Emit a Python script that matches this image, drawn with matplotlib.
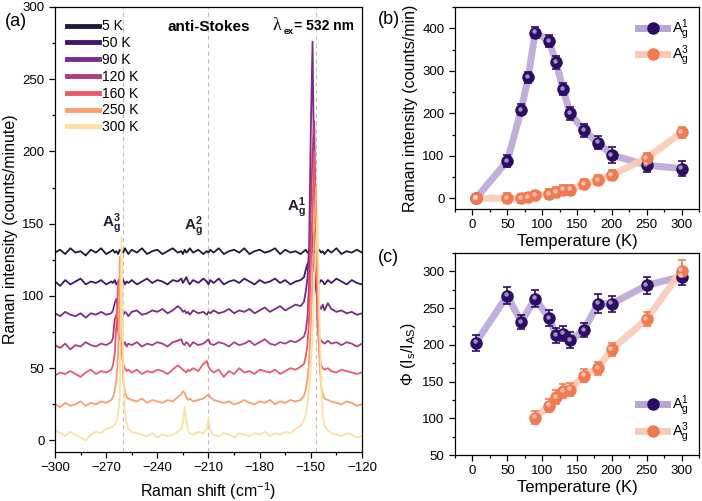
import matplotlib
matplotlib.use("Agg")
import matplotlib.pyplot as plt
from matplotlib.ticker import MultipleLocator
from matplotlib import transforms

plt.rcParams['font.family'] = ['Liberation Sans', 'DejaVu Sans']
plt.rcParams['mathtext.fontset'] = 'custom'
plt.rcParams['mathtext.rm'] = 'Liberation Sans'
plt.rcParams['mathtext.it'] = 'Liberation Sans:italic'
plt.rcParams['mathtext.bf'] = 'Liberation Sans:bold'

# ---------------- (a) spectra ----------------
shift = [-300, -297, -294, -291, -288, -285, -282, -279, -276, -273, -270, -267,
         -266, -265, -264, -263, -262, -261, -260, -259, -258, -257,
         -255, -252, -249, -246, -243, -240, -237, -234, -231, -228,
         -226, -225, -224, -223, -222, -221,
         -219, -216, -213,
         -211, -210, -209,
         -207, -204, -201, -198, -195, -192, -189, -186, -183, -180, -177, -174,
         -171, -168, -165, -162, -159, -156,
         -154, -153, -152, -151, -150, -149, -148, -147, -146, -145, -144, -143, -142,
         -140, -138, -135, -132, -129, -126, -123, -120]

temps_a = ['5 K', '50 K', '90 K', '120 K', '160 K', '250 K', '300 K']
colors_a = ['#1e1a33', '#3c1770', '#7b2a8c', '#b03a7f', '#ec5a68', '#fd9e70', '#fde0a0']

spec_5K = [130, 132, 129, 133, 130, 131, 128, 132, 130, 133, 129, 131,
           132, 130, 131, 129, 132, 131, 130, 133, 131, 129,
           132, 130, 133, 129, 131, 132, 129, 131, 133, 130,
           131, 129, 132, 130, 131, 133,
           130, 132, 129,
           131, 130, 132,
           130, 133, 129, 131, 132, 130, 133, 129, 131, 132, 130, 131,
           133, 129, 132, 130, 131, 129,
           131, 132, 130, 131, 132, 130, 131, 129, 130, 132, 130, 131, 129,
           132, 130, 133, 129, 131, 130, 132, 130]
spec_50K = [110, 107, 111, 108, 110, 112, 108, 110, 109, 111, 108, 110,
            109, 111, 108, 110, 112, 109, 111, 108, 110, 109,
            111, 108, 110, 112, 109, 111, 110, 108, 111, 110,
            112, 109, 111, 113, 110, 108,
            111, 109, 112,
            110, 108, 111,
            109, 112, 108, 110, 111, 109, 112, 110, 108, 111, 109, 110,
            112, 109, 111, 108, 110, 111,
            113, 118, 122, 124, 151, 138, 118, 113, 111, 109, 111, 110, 108,
            111, 109, 112, 110, 108, 111, 109, 108]
spec_90K = [88, 86, 89, 87, 86, 88, 85, 88, 87, 89, 87, 88,
            90, 95, 98, 92, 89, 88, 87, 89, 88, 86,
            89, 90, 87, 88, 90, 89, 91, 88, 90, 93,
            91, 89, 90, 88, 89, 87,
            90, 88, 89,
            87, 89, 88,
            90, 88, 89, 91, 88, 90, 89, 91, 88, 90, 92, 89,
            91, 93, 90, 92, 94, 93,
            96, 103, 112, 135, 215, 276, 175, 105, 96, 93, 91, 94, 90,
            95, 91, 89, 90, 88, 89, 87, 88]
spec_120K = [66, 64, 67, 63, 66, 65, 68, 66, 65, 67, 66, 68,
             71, 84, 87, 76, 70, 68, 66, 68, 65, 67,
             66, 68, 65, 67, 66, 68, 67, 65, 68, 69,
             70, 67, 66, 68, 67, 65,
             68, 66, 67,
             69, 70, 67,
             66, 68, 67, 65, 68, 66, 67, 69, 66, 68, 70, 67,
             66, 68, 67, 69, 68, 70,
             72, 76, 85, 110, 160, 200, 221, 130, 82, 72, 69, 68, 67,
             69, 67, 68, 66, 68, 67, 65, 67]
spec_160K = [45, 47, 46, 48, 46, 44, 47, 49, 46, 48, 47, 49,
             52, 60, 80, 110, 85, 62, 53, 50, 48, 49,
             47, 49, 46, 48, 47, 49, 48, 46, 49, 52,
             50, 49, 48, 47, 49, 48,
             50, 48, 53,
             55, 51, 49,
             47, 49, 44, 48, 46, 50, 47, 48, 46, 49, 48, 47,
             49, 46, 48, 50, 49, 51,
             53, 58, 66, 85, 120, 160, 200, 150, 80, 60, 52, 50, 49,
             50, 48, 47, 49, 48, 47, 46, 47]
spec_250K = [25, 23, 26, 24, 25, 27, 24, 26, 25, 27, 26, 28,
             30, 34, 42, 60, 127, 80, 42, 34, 30, 29,
             28, 27, 29, 26, 28, 27, 26, 28, 27, 30,
             32, 34, 33, 30, 28, 29,
             27, 28, 29,
             31, 32, 30,
             28, 27, 26, 27, 25, 26, 28, 26, 25, 27, 26, 28,
             25, 27, 26, 28, 27, 28,
             31, 35, 42, 55, 80, 115, 150, 175, 110, 55, 38, 32, 29,
             28, 27, 26, 25, 27, 26, 24, 25]
spec_300K = [7, 5, 3, 6, 4, 2, 0, 4, 6, 5, 8, 9,
             10, 11, 13, 18, 30, 141, 55, 20, 12, 8,
             6, 5, 4, 3, 5, 2, 4, 3, 4, 6,
             8, 12, 23, 14, 7, 5,
             4, 6, 5,
             8, 15, 7,
             4, 3, 5, 4, 2, 5, 4, 3, 5, 4, 6, 3,
             5, 4, 6, 5, 8, 10,
             14, 18, 25, 35, 50, 75, 110, 135, 155, 90, 40, 18, 10,
             7, 5, 4, 3, 5, 4, 2, 3]
spectra = [spec_5K, spec_50K, spec_90K, spec_120K, spec_160K, spec_250K, spec_300K]

mode_pos = [-260, -210, -147]

# ---------------- (b) intensity ----------------
T_b = [5, 50, 70, 80, 90, 110, 120, 130, 140, 160, 180, 200, 250, 300]
I1 = [0, 88, 208, 285, 390, 370, 320, 257, 200, 160, 131, 102, 78, 70]
I1_err = [5, 14, 13, 13, 14, 14, 15, 15, 15, 15, 15, 18, 17, 18]
I3 = [0, 0, 0, 3, 7, 10, 15, 20, 20, 33, 43, 55, 95, 155]
I3_err = [8, 12, 10, 10, 10, 12, 12, 12, 12, 12, 12, 12, 12, 12]

# ---------------- (c) ratio ----------------
T_c1 = [5, 50, 70, 90, 110, 120, 130, 140, 160, 180, 200, 250, 300]
R1 = [203, 267, 231, 263, 236, 213, 215, 206, 220, 256, 256, 281, 293]
R1_err = [11, 12, 10, 12, 11, 10, 10, 11, 10, 13, 11, 12, 12]
T_c3 = [90, 110, 120, 130, 140, 160, 180, 200, 250, 300]
R3 = [101, 117, 129, 137, 139, 158, 168, 194, 235, 301]
R3_err = [9, 9, 9, 9, 9, 9, 9, 9, 10, 14]

c1_dark = '#2d0c66'
c1_line = '#b9a6d8'
c3_dark = '#f27a52'
c3_line = '#f9cbb6'

W, H = 702, 501
fig = plt.figure(figsize=(W / 100, H / 100), dpi=100)


def px_axes(l, t, r, b):
    return fig.add_axes([l / W, 1 - b / H, (r - l) / W, (b - t) / H])


def style(ax):
    ax.tick_params(which='both', direction='out', labelsize=9.5, width=0.9)
    ax.tick_params(which='major', length=4)
    ax.tick_params(which='minor', length=2.2)
    for s in ax.spines.values():
        s.set_linewidth(0.9)


ax_a = px_axes(55, 7, 362, 452)
for x in mode_pos:
    ax_a.axvline(x, color='#c0c0c0', ls=(0, (4, 3)), lw=0.8, zorder=0)
for lab, col, y in zip(temps_a, colors_a, spectra):
    ax_a.plot(shift, y, color=col, lw=1.3, label=lab)
ax_a.set_xlim(-300, -120)
ax_a.set_ylim(-8, 300)
ax_a.xaxis.set_major_locator(MultipleLocator(30))
ax_a.xaxis.set_minor_locator(MultipleLocator(15))
ax_a.yaxis.set_major_locator(MultipleLocator(50))
ax_a.yaxis.set_minor_locator(MultipleLocator(25))
style(ax_a)
ax_a.set_xlabel('Raman shift (cm$^{-1}$)', fontsize=11.5)
ax_a.set_ylabel('Raman intensity (counts/minute)', fontsize=11.5, labelpad=3)
leg = ax_a.legend(loc='upper left', frameon=False, fontsize=10, handlelength=2.3,
                  handletextpad=0.15, labelspacing=0.2, borderaxespad=0.5)
for ln in leg.get_lines():
    ln.set_linewidth(3.5)
ax_a.text(-210, 286, 'anti-Stokes', fontsize=11, fontweight='bold', ha='center', va='center')
ax_a.text(-170, 287, 'λ', fontsize=13, family='Liberation Serif', ha='center', va='center')
ax_a.text(-166, 283, 'ex', fontsize=6.5, fontweight='bold', ha='left', va='center')
ax_a.text(-159.8, 287, '= 532 nm', fontsize=10, fontweight='bold', ha='left', va='center')
ax_a.text(-267, 150, r'$\mathbf{A_g^3}$', fontsize=11, ha='center', va='center', color='#2a1830')
ax_a.text(-219, 148, r'$\mathbf{A_g^2}$', fontsize=11, ha='center', va='center', color='#2a1830')
ax_a.text(-158.5, 161, r'$\mathbf{A_g^1}$', fontsize=11, ha='center', va='center', color='#2a1830')
fig.text(5 / W, 1 - 21 / H, '(a)', fontsize=13, va='center')


def sphere_series(ax, x, y, err, dark, light, label):
    ax.plot(x, y, color=light, lw=5, alpha=0.9, zorder=1, solid_capstyle='round')
    ax.errorbar(x, y, yerr=err, fmt='none', ecolor=dark, elinewidth=1.2,
                capsize=3, capthick=1.2, zorder=2)
    ax.plot(x, y, 'o', ms=8, mfc=dark, mec=dark, zorder=3)
    hl = transforms.offset_copy(ax.transData, fig=fig, x=-1.0, y=1.0, units='points')
    ax.plot(x, y, 'o', ms=3.2, mfc='white', mec='none', alpha=0.55, zorder=4, transform=hl)
    # legend proxy
    ax.plot([], [], '-o', color=light, lw=5, ms=8, mfc=dark, mec=dark, label=label)


ax_b = px_axes(455, 7, 699, 209)
sphere_series(ax_b, T_b, I1, I1_err, c1_dark, c1_line, r'$\mathregular{A_g^1}$')
sphere_series(ax_b, T_b, I3, I3_err, c3_dark, c3_line, r'$\mathregular{A_g^3}$')
ax_b.set_xlim(-25, 325)
ax_b.set_ylim(-25, 450)
ax_b.xaxis.set_major_locator(MultipleLocator(50))
ax_b.xaxis.set_minor_locator(MultipleLocator(25))
ax_b.yaxis.set_major_locator(MultipleLocator(100))
ax_b.yaxis.set_minor_locator(MultipleLocator(50))
style(ax_b)
ax_b.set_xlabel('Temperature (K)', fontsize=12, labelpad=2)
ax_b.set_ylabel('Raman intensity (counts/min)', fontsize=11.5, labelpad=3)
ax_b.legend(loc='upper right', frameon=False, fontsize=10.5, handlelength=2.0,
            handletextpad=0.3, labelspacing=0.15, borderaxespad=0.3)
fig.text(378 / W, 1 - 20 / H, '(b)', fontsize=13, va='center')

ax_c = px_axes(455, 253, 699, 455)
sphere_series(ax_c, T_c1, R1, R1_err, c1_dark, c1_line, r'$\mathregular{A_g^1}$')
sphere_series(ax_c, T_c3, R3, R3_err, c3_dark, c3_line, r'$\mathregular{A_g^3}$')
ax_c.set_xlim(-25, 325)
ax_c.set_ylim(50, 325)
ax_c.xaxis.set_major_locator(MultipleLocator(50))
ax_c.xaxis.set_minor_locator(MultipleLocator(25))
ax_c.yaxis.set_major_locator(MultipleLocator(50))
ax_c.yaxis.set_minor_locator(MultipleLocator(25))
style(ax_c)
ax_c.set_xlabel('Temperature (K)', fontsize=12, labelpad=2)
ax_c.set_ylabel(r'$\Phi$ ($\mathregular{I_s/I_{AS}}$)', fontsize=11.5, labelpad=3)
ax_c.legend(loc='lower right', frameon=False, fontsize=10.5, handlelength=2.0,
            handletextpad=0.3, labelspacing=0.15, borderaxespad=0.3)
fig.text(378 / W, 1 - 258 / H, '(c)', fontsize=13, va='center')

fig.savefig('out.png', dpi=100)
